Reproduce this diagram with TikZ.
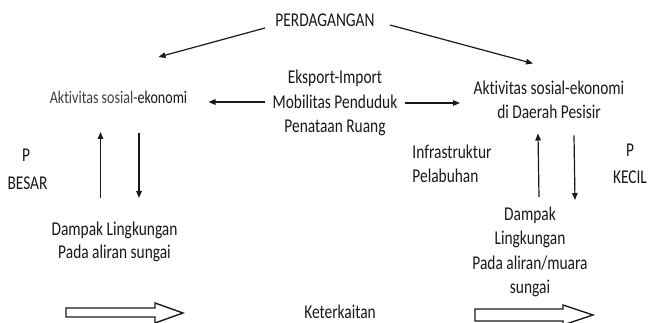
\documentclass[tikz,border=0pt]{standalone}
\usepackage{fontspec}
\setmainfont[FakeStretch=0.79,Ligatures={NoCommon,NoContextual}]{Carlito}
\usetikzlibrary{arrows.meta,calc}
\newcommand{\txtsize}{\fontsize{19.5}{24.3}\selectfont}
\newcommand{\smallsize}{\fontsize{17.8}{22}\selectfont}
\tikzset{
  lbl/.style={inner sep=0pt, text=black!90, font=\txtsize, align=center},
  arr/.style={line width=1.2pt, draw=black!90, -{Triangle[length=7pt,width=5.5pt]}},
  blockarrow/.style={line width=1.4pt, draw=black!90, fill=white, line join=miter}
}
\begin{document}
\begin{tikzpicture}[x=1pt,y=-1pt]
  \useasboundingbox[fill=white] (0,0) rectangle (649,323);

  % text nodes
  \node[lbl] (perd) at (325,20) {PERDAGANGAN};
  \node[lbl,font=\smallsize] (aktL) at (118.5,97) {\textcolor{black!75}{Aktivitas sosial-}ekonomi};
  \node[lbl] (ctr) at (335,103) {Eksport-Import\\Mobilitas Penduduk\\Penataan Ruang};
  \node[lbl] (aktR) at (549,99.5) {Aktivitas sosial-ekonomi\\di Daerah Pesisir};
  \node[lbl,align=left] (infra) at (452,164) {Infrastruktur\\Pelabuhan};
  \node[lbl] (pL) at (26,155) {P};
  \node[lbl] (besar) at (27.5,183) {BESAR};
  \node[lbl] (pR) at (630,150) {P};
  \node[lbl] (kecil) at (630,177) {KECIL};
  \node[lbl,font={\fontsize{19.5}{23}\selectfont}] (dampL) at (114.5,241.5) {Dampak Lingkungan\\Pada aliran sungai};
  \node[lbl] (dampR) at (530,252) {Dampak\\Lingkungan\\Pada aliran/muara\\sungai};
  \node[lbl] (ket) at (340,312) {Keterkaitan};

  % connectors from PERDAGANGAN
  \draw[arr] ($(perd)+(-60,8)$) -- ($(aktL)+(40,-40)$);
  \draw[arr] ($(perd)+(65,5)$) -- ($(aktR)+(-16,-36)$);

  % connectors from the central block
  \draw[arr] ($(ctr)+(-70,-1)$) -- ($(aktL)+(90,5)$);
  \draw[arr] ($(ctr)+(70,0)$) -- ($(aktR)+(-89,3.5)$);

  % left feedback pair
  \draw[arr] ($(dampL)+(-14,-43.5)$) -- ($(aktL)+(-18,35)$);
  \draw[arr] ($(aktL)+(20.5,36)$) -- ($(dampL)+(24.5,-43.5)$);

  % right feedback pair
  \draw[arr] ($(dampR)+(9,-55)$) -- ($(aktR)+(-11,34)$);
  \draw[arr] ($(aktR)+(25,36)$) -- ($(dampR)+(45,-52)$);

  % outlined block arrows
  \draw[blockarrow] (66,308) -- (155,308) -- (155,303) -- (183,313)
        -- (155,323) -- (155,317) -- (66,317) -- cycle;
  \draw[blockarrow] (475,309) -- (563,309) -- (563,305) -- (593,315)
        -- (563,325) -- (563,321) -- (475,321) -- cycle;
\end{tikzpicture}
\end{document}
